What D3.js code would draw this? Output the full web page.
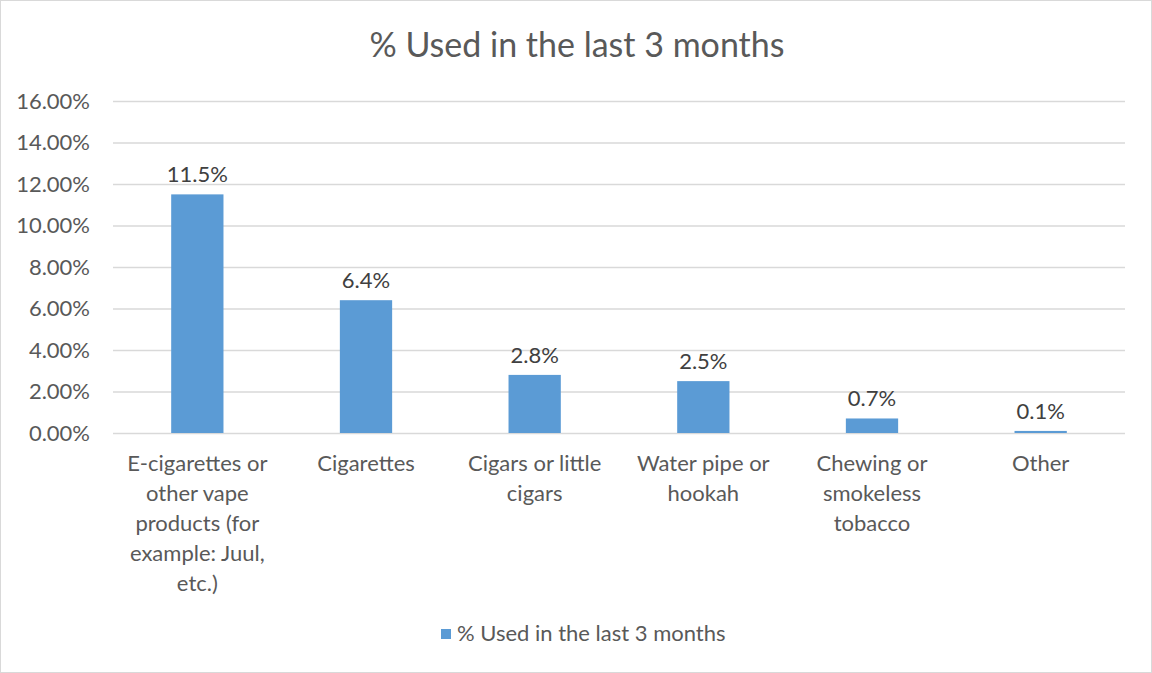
<!DOCTYPE html>
<html>
<head>
<meta charset="utf-8">
<script src="https://cdn.jsdelivr.net/npm/d3@7"></script>
<style>
  html, body { margin: 0; padding: 0; background: #fff; }
  svg { display: block; font-family: Lato, "Open Sans", sans-serif; }
</style>
</head>
<body>
<svg id="chart" width="1152" height="673"></svg>
<script>
// Tobacco product categories (each entry is the wrapped label lines)
const categories = [
  ["E-cigarettes or", "other vape", "products (for", "example: Juul,", "etc.)"],
  ["Cigarettes"],
  ["Cigars or little", "cigars"],
  ["Water pipe or", "hookah"],
  ["Chewing or", "smokeless", "tobacco"],
  ["Other"]
];
// Share who used each product in the last 3 months (%)
const usedPct = [11.5, 6.4, 2.8, 2.5, 0.7, 0.1];
const yTicks = [0, 2, 4, 6, 8, 10, 12, 14, 16];
const seriesName = "% Used in the last 3 months";

const svg = d3.select("#chart");
const W = 1152, H = 673;
const textColor = "#595959";
const barColor = "#5B9BD5";
const fs = 22;

// outer chart frame
svg.append("rect")
  .attr("x", 0.5).attr("y", 0.5).attr("width", W - 1).attr("height", H - 1)
  .attr("fill", "#fff").attr("stroke", "#d9d9d9");

const plot = { left: 113, right: 1125, top: 101, bottom: 433 };

const x = d3.scaleBand()
  .domain(d3.range(categories.length))
  .range([plot.left, plot.right])
  .paddingInner(0.69).paddingOuter(0.345);

const y = d3.scaleLinear().domain([0, 16]).range([plot.bottom, plot.top]);

// title
svg.append("text")
  .attr("x", 577).attr("y", 57)
  .attr("text-anchor", "middle")
  .attr("font-size", 34).attr("fill", textColor)
  .text(seriesName);

// horizontal gridlines + y axis labels
const yAxis = d3.axisLeft(y)
  .tickValues(yTicks)
  .tickSize(-(plot.right - plot.left))
  .tickPadding(23)
  .tickFormat(d => d.toFixed(2) + "%");

const ya = svg.append("g")
  .attr("transform", `translate(${plot.left},0)`)
  .call(yAxis);
ya.select(".domain").remove();
ya.selectAll(".tick line").attr("stroke", "#d9d9d9").attr("stroke-width", 1.3);
ya.selectAll(".tick text")
  .attr("font-size", fs).attr("fill", textColor)
  .attr("font-family", "Lato, 'Open Sans', sans-serif");

// bars
svg.append("g").selectAll("rect")
  .data(usedPct)
  .join("rect")
  .attr("x", (d, i) => x(i))
  .attr("width", x.bandwidth())
  .attr("y", d => y(d))
  .attr("height", d => y(0) - y(d))
  .attr("fill", barColor);

// value labels
svg.append("g").selectAll("text")
  .data(usedPct)
  .join("text")
  .attr("x", (d, i) => x(i) + x.bandwidth() / 2)
  .attr("y", d => y(d) - 12)
  .attr("text-anchor", "middle")
  .attr("font-size", fs).attr("fill", "#404040")
  .text(d => d.toFixed(1) + "%");

// category labels
const xa = svg.append("g");
categories.forEach((lines, i) => {
  const t = xa.append("text")
    .attr("x", x(i) + x.bandwidth() / 2)
    .attr("y", 471)
    .attr("text-anchor", "middle")
    .attr("font-size", fs).attr("fill", textColor);
  lines.forEach((ln, k) => {
    t.append("tspan")
      .attr("x", x(i) + x.bandwidth() / 2)
      .attr("dy", k === 0 ? 0 : 30)
      .text(ln);
  });
});

// legend
const lg = svg.append("g").attr("transform", "translate(441,629)");
lg.append("rect").attr("width", 10).attr("height", 10).attr("fill", barColor);
lg.append("text")
  .attr("x", 16).attr("y", 12)
  .attr("font-size", fs).attr("fill", textColor)
  .text(seriesName);
</script>
</body>
</html>
